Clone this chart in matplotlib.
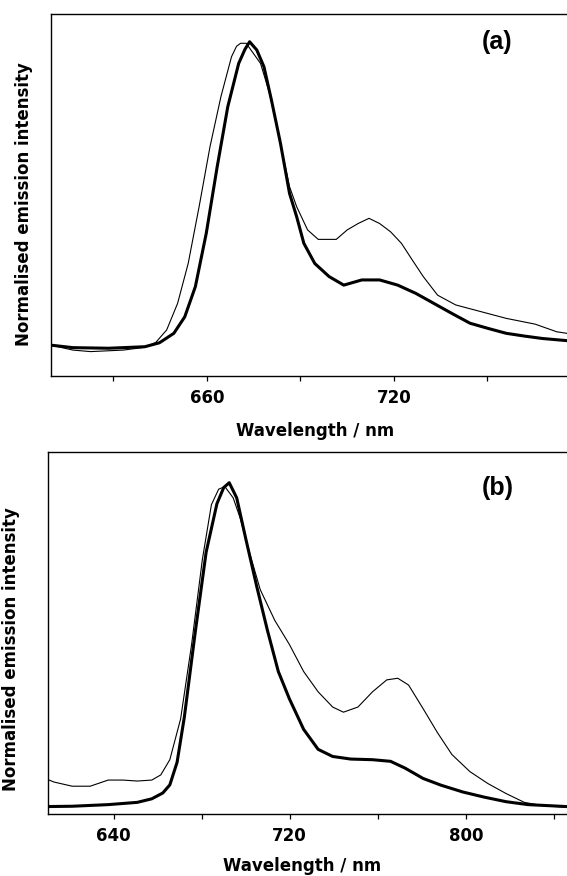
import numpy as np
import matplotlib
matplotlib.use('Agg')
import matplotlib.pyplot as plt
from matplotlib.transforms import blended_transform_factory

plt.rcParams['font.family'] = 'DejaVu Sans'
plt.rcParams['font.weight'] = 'bold'

# Panel (a): emission spectra, normalised
wl_a_thin = [610.1, 617.0, 622.7, 633.2, 640.1, 643.6, 647.1, 650.6, 654.0, 657.5,
             661.0, 664.5, 667.9, 669.5, 670.8, 672.6, 674.9, 677.2, 680.1, 683.6, 686.5,
             688.8, 692.3, 695.7, 701.5, 705.0, 708.5, 712.0, 715.4, 718.9, 722.4,
             725.9, 729.4, 734.0, 739.8, 747.9, 756.0, 765.3, 772.2, 775.4]
int_a_thin = [0.005, -0.011, -0.016, -0.011, -0.002, 0.014, 0.055, 0.142, 0.273, 0.459,
              0.656, 0.820, 0.951, 0.985, 0.995, 0.995, 0.962, 0.929, 0.831, 0.667, 0.525,
              0.459, 0.383, 0.352, 0.352, 0.383, 0.404, 0.421, 0.404, 0.377, 0.339,
              0.284, 0.230, 0.169, 0.137, 0.115, 0.093, 0.074, 0.049, 0.044]

wl_a_bold = [610.1, 617.0, 628.5, 640.1, 644.8, 649.4, 652.9, 656.3, 659.8, 663.3,
             666.7, 670.2, 672.2, 673.7, 676.0, 678.3, 680.7, 683.6, 686.5, 688.8, 691.1,
             694.6, 699.2, 703.9, 709.7, 715.4, 721.2, 727.0, 732.8, 738.6, 744.4,
             750.2, 756.0, 761.8, 767.6, 775.4]
int_a_bold = [0.005, -0.003, -0.005, 0.0, 0.013, 0.044, 0.098, 0.197, 0.372, 0.590,
              0.787, 0.929, 0.975, 1.0, 0.973, 0.918, 0.809, 0.667, 0.503, 0.426, 0.339,
              0.273, 0.230, 0.202, 0.219, 0.219, 0.202, 0.175, 0.142, 0.109, 0.077,
              0.060, 0.044, 0.035, 0.027, 0.020]

# Panel (b)
wl_b_thin = [609.6, 612.8, 621.1, 629.3, 637.5, 644.1, 650.7, 657.3, 661.4, 665.5,
             670.4, 675.4, 680.3, 684.4, 687.7, 690.5, 694.3, 697.5, 701.7, 706.6,
             713.2, 719.8, 726.3, 732.9, 739.5, 744.4, 751.0, 757.6, 764.1, 769.1,
             774.0, 780.6, 787.1, 793.7, 801.9, 810.1, 818.4, 826.6, 834.8, 845.8]
int_b_thin = [0.083, 0.074, 0.061, 0.061, 0.080, 0.080, 0.077, 0.080, 0.096, 0.143,
              0.269, 0.500, 0.763, 0.932, 0.980, 0.988, 0.953, 0.890, 0.784, 0.669,
              0.574, 0.500, 0.416, 0.353, 0.306, 0.290, 0.306, 0.353, 0.390, 0.395,
              0.374, 0.301, 0.227, 0.159, 0.106, 0.069, 0.038, 0.011, 0.001, -0.004]

wl_b_bold = [609.6, 621.1, 637.5, 650.7, 657.3, 662.3, 665.5, 668.8, 672.1, 677.0,
             682.0, 686.9, 690.0, 692.5, 695.9, 700.0, 705.0, 709.9, 714.8, 719.8, 726.3,
             732.9, 739.5, 747.7, 757.6, 765.8, 772.4, 780.6, 788.8, 798.7, 808.5,
             818.4, 828.3, 845.8]
int_b_bold = [-0.002, -0.001, 0.004, 0.011, 0.022, 0.040, 0.065, 0.135, 0.275, 0.535,
              0.785, 0.935, 0.985, 1.0, 0.953, 0.827, 0.679, 0.542, 0.416, 0.332, 0.237,
              0.175, 0.153, 0.145, 0.143, 0.138, 0.117, 0.085, 0.064, 0.043, 0.027,
              0.013, 0.004, -0.002]

fig = plt.figure(figsize=(5.67, 8.76), dpi=100)
ax1 = fig.add_axes([51 / 567, 1 - 376 / 876, 516 / 567, 362 / 876])
ax2 = fig.add_axes([47.7 / 567, 1 - 814 / 876, 519.3 / 567, 362 / 876])

ax1.plot(wl_a_thin, int_a_thin, color='black', lw=0.8)
ax1.plot(wl_a_bold, int_a_bold, color='black', lw=2.2)
ax2.plot(wl_b_thin, int_b_thin, color='black', lw=0.8)
ax2.plot(wl_b_bold, int_b_bold, color='black', lw=2.2)

ax1.set_xlim(610, 775.5)
ax1.set_ylim(-0.096, 1.091)
ax1.set_xticks([660, 720])
ax1.set_xticks([630, 690, 750], minor=True)

ax2.set_xlim(610, 846)
ax2.set_ylim(-0.025, 1.095)
ax2.set_xticks([640, 720, 800])
ax2.set_xticks([680, 760, 840], minor=True)

for ax in (ax1, ax2):
    ax.spines['right'].set_visible(False)
    for s in ax.spines.values():
        s.set_linewidth(1.0)
    ax.set_yticks([])
    ax.tick_params(axis='x', which='both', direction='out', length=3.6, width=0.9,
                   labelsize=12, pad=5.5)
    ax.set_xlabel('Wavelength / nm', fontsize=12, fontweight='bold')
    ax.set_ylabel('Normalised emission intensity', fontsize=12, fontweight='bold')

ax1.xaxis.set_label_coords(0.511, -0.127)
ax2.xaxis.set_label_coords(0.49, -0.118)
ax1.yaxis.set_label_coords(-0.035, 0.475)
ax2.yaxis.set_label_coords(-0.053, 0.456)

# panel letters
ax1.text(497 / 567, 1.0, '(a)', family='Liberation Sans', fontsize=18, fontweight='bold',
         ha='center', va='center',
         transform=blended_transform_factory(fig.transFigure, ax1.transData))
ax2.text(498 / 567, 0.985, '(b)', family='Liberation Sans', fontsize=18, fontweight='bold',
         ha='center', va='center',
         transform=blended_transform_factory(fig.transFigure, ax2.transData))

fig.savefig('out.png', dpi=100)
